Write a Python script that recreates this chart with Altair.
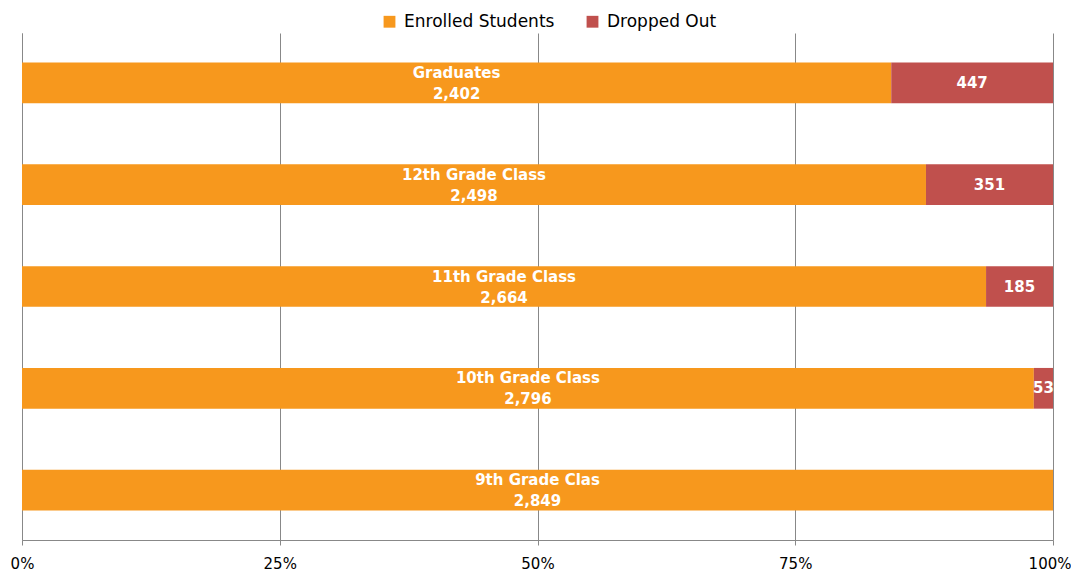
import altair as alt
import pandas as pd

categories = ["Graduates", "12th Grade Class", "11th Grade Class", "10th Grade Class", "9th Grade Clas"]
enrolled = [2402, 2498, 2664, 2796, 2849]
dropped = [447, 351, 185, 53, 0]
series = ["Enrolled Students", "Dropped Out"]
colors = ["#F7981D", "#C0504D"]

rows = []
for c, e, d in zip(categories, enrolled, dropped):
    rows.append({"category": c, "type": series[0], "order": 0, "value": e})
    rows.append({"category": c, "type": series[1], "order": 1, "value": d})
df = pd.DataFrame(rows)

FONT = "DejaVu Sans"

base = alt.Chart(df).transform_stack(
    stack="value", groupby=["category"], as_=["v0", "v1"],
    offset="normalize", sort=[alt.SortField("order")]
).transform_filter("datum.value > 0").transform_calculate(
    mid="(datum.v0 + datum.v1) / 2",
    label="datum.order == 0 ? datum.category + '\\n' + format(datum.value, ',') : format(datum.value, ',')",
)

yenc = alt.Y("category:N", sort=categories,
             scale=alt.Scale(paddingInner=0.6, paddingOuter=0.29),
             axis=alt.Axis(labels=False, ticks=False, title=None, domain=True,
                           domainColor="#888888", grid=False))

bars = base.mark_bar().encode(
    x=alt.X("v0:Q", scale=alt.Scale(domain=[0, 1], nice=False),
            axis=alt.Axis(format="%", values=[0, 0.25, 0.5, 0.75, 1], title=None,
                          grid=True, gridColor="#888888", gridWidth=1,
                          domainColor="#888888", tickColor="#888888", tickSize=5,
                          labelFont=FONT, labelFontSize=15, labelColor="#000000",
                          labelPadding=11, labelFlush=False,
                          labelAlign={"condition": {"test": "datum.value == 1", "value": "right"}, "value": "center"},
                          labelOffset={"condition": {"test": "datum.value == 1", "value": 18}, "value": 0})),
    x2="v1:Q",
    y=yenc,
    color=alt.Color("type:N", sort=series,
                    scale=alt.Scale(domain=series, range=colors),
                    legend=alt.Legend(title=None, orient="none", direction="horizontal",
                                      legendX=359, legendY=-20,
                                      symbolType="square", symbolSize=140,
                                      symbolStrokeWidth=0, symbolOpacity=1,
                                      labelFont=FONT, labelFontSize=17,
                                      labelColor="#000000", labelOffset=6,
                                      columnPadding=29)),
    order=alt.Order("order:Q"),
)

enr_text = base.transform_filter("datum.order == 0").mark_text(
    color="white", fontWeight="bold", font=FONT, fontSize=15,
    lineBreak="\n", lineHeight=21, baseline="middle", align="center", dy=-10).encode(
    x="mid:Q",
    y=alt.Y("category:N", sort=categories),
    text="label:N",
)

drop_text = base.transform_filter("datum.order == 1").mark_text(
    color="white", fontWeight="bold", font=FONT, fontSize=15,
    baseline="middle", align="center").encode(
    x="mid:Q",
    y=alt.Y("category:N", sort=categories),
    text="label:N",
)

chart = alt.layer(bars, enr_text, drop_text).properties(
    width=1031, height=507,
    autosize=alt.AutoSizeParams(type="none"),
    padding={"left": 14, "top": 25, "right": 18, "bottom": 33},
).configure_view(stroke=None)

chart.save("out.html", embed_options={"renderer": "svg", "actions": False})
